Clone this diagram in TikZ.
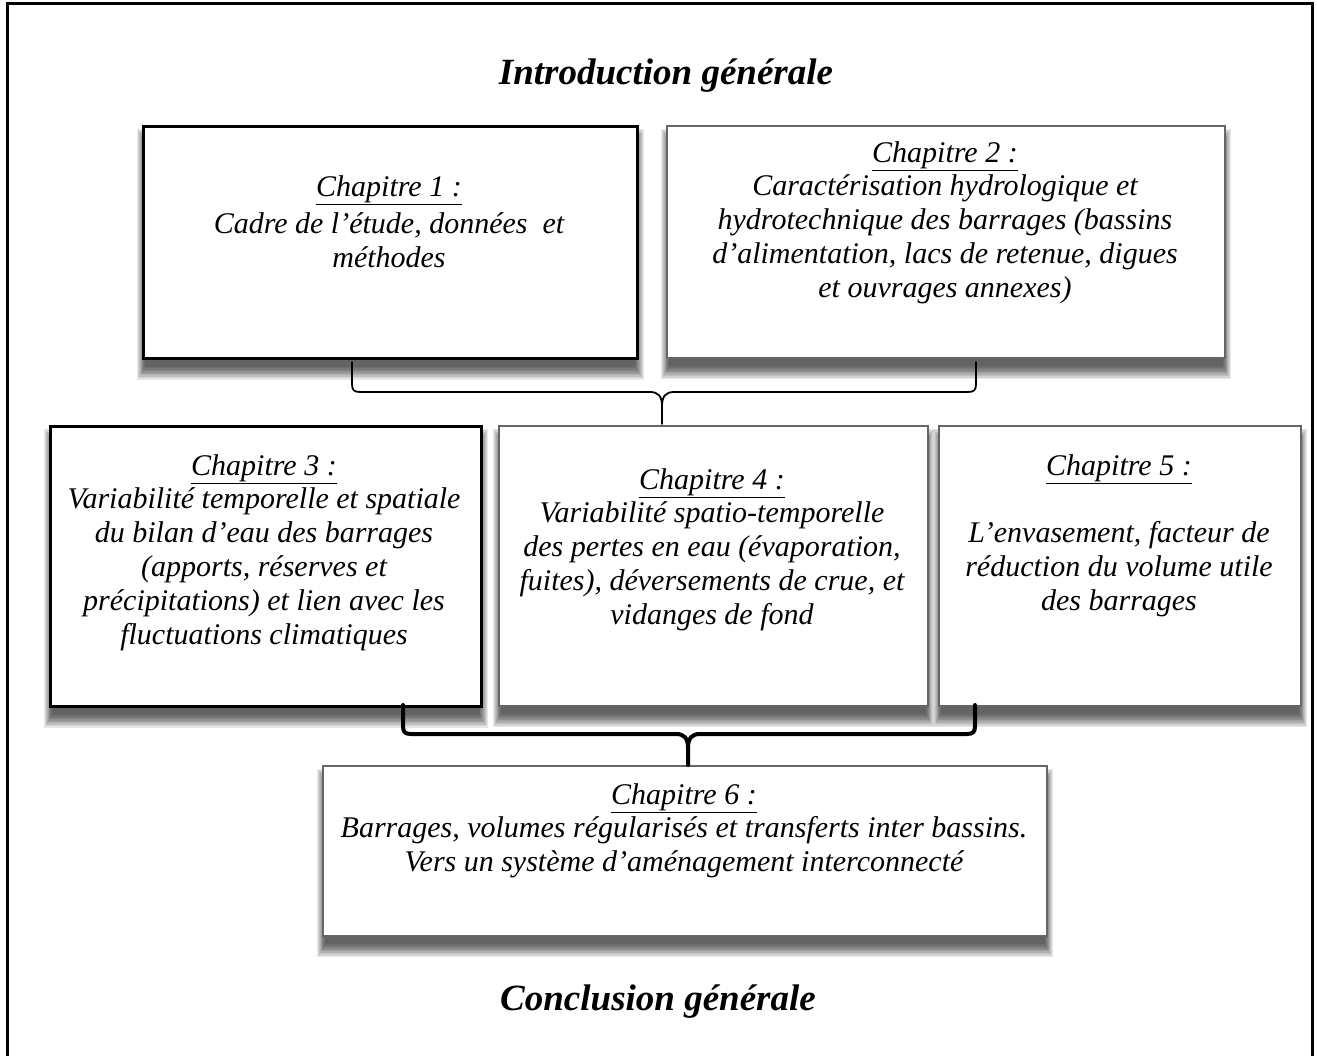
\documentclass[tikz,border=0pt]{standalone}
\usepackage{fontspec}
\setmainfont{Liberation Serif}
\usetikzlibrary{calc,backgrounds}
\tikzset{
  boxthick/.style={rectangle, draw=black, line width=2.6pt, fill=white, inner sep=0pt, anchor=north west},
  boxthin/.style={rectangle, draw=black!60, line width=2pt, fill=white, inner sep=0pt, anchor=north west},
  btext/.style={align=center, font=\fontsize{30}{33.8}\selectfont\itshape, inner sep=0pt, anchor=north},
  ttext/.style={font=\fontsize{37}{44}\selectfont\bfseries\itshape, inner sep=0pt},
  bracethin/.style={draw=black, line width=1.8pt, line join=round, line cap=round},
  bracethick/.style={draw=black, line width=4pt, line join=round, line cap=round},
}
\newcommand\dropshade[1]{%
  \foreach \k in {0,...,9}{%
    \fill[black, opacity=0.09] ($(#1.north west)+(-5+0.9*\k, 4+1.4*\k)$) rectangle ($(#1.south east)+(5-0.9*\k, 20-1.4*\k)$);
  }}
\newcommand\curlybrace[7]{%
  \draw[#1] (#2,#5) -- (#2,#6-8) .. controls (#2,#6-2) and (#2+2,#6) .. (#2+8,#6) -- (#4-12,#6) .. controls (#4-4,#6) and (#4,#6+4) .. (#4,#6+14) -- (#4,#7);
  \draw[#1] (#3,#5) -- (#3,#6-8) .. controls (#3,#6-2) and (#3-2,#6) .. (#3-8,#6) -- (#4+12,#6) .. controls (#4+4,#6) and (#4,#6+4) .. (#4,#6+14);
}
\begin{document}
\begin{tikzpicture}[x=1pt,y=-1pt]
\useasboundingbox (0,0) rectangle (1317,1056);
\draw[line width=3pt] (7,4) rectangle (1312,1090);

\node[ttext] (intro) at (666,76) {Introduction générale};
\node[ttext] (concl) at (658,1002) {Conclusion générale};

\node[boxthick, minimum width=494pt, minimum height=232pt] (b1) at (142,125) {};
\node[boxthin, minimum width=558pt, minimum height=232pt] (b2) at (666,125) {};
\node[boxthick, minimum width=431pt, minimum height=280pt] (b3) at (49,425) {};
\node[boxthin, minimum width=429pt, minimum height=280pt] (b4) at (498,425) {};
\node[boxthin, minimum width=362pt, minimum height=280pt] (b5) at (938,425) {};
\node[boxthin, minimum width=724pt, minimum height=170pt] (b6) at (322,765) {};

\begin{scope}[on background layer]
\dropshade{b1}\dropshade{b2}\dropshade{b3}\dropshade{b4}\dropshade{b5}\dropshade{b6}
\end{scope}

\node[btext] (t1) at (389,175) {\underline{Chapitre 1 :}\\[4pt]Cadre de l’étude, données~ et\\méthodes};
\node[btext] (t2) at (945,141) {\underline{Chapitre 2 :}\\Caractérisation hydrologique et\\hydrotechnique des barrages (bassins\\d’alimentation, lacs de retenue, digues\\et ouvrages annexes)};
\node[btext] (t3) at (264,454) {\underline{Chapitre 3 :}\\Variabilité temporelle et spatiale\\du bilan d’eau des barrages\\(apports, réserves et\\précipitations) et lien avec les\\fluctuations climatiques};
\node[btext] (t4) at (712,468) {\underline{Chapitre 4 :}\\Variabilité spatio-temporelle\\des pertes en eau (évaporation,\\fuites), déversements de crue, et\\vidanges de fond};
\node[btext] (t5) at (1119,454) {\underline{Chapitre 5 :}\\\mbox{}\\L’envasement, facteur de\\réduction du volume utile\\des barrages};
\node[btext] (t6) at (684,783) {\underline{Chapitre 6 :}\\Barrages, volumes régularisés et transferts inter bassins.\\Vers un système d’aménagement interconnecté};

\curlybrace{bracethin}{352}{976}{662}{362}{392}{424}
\curlybrace{bracethick}{403}{975}{688}{705}{734}{765}
\end{tikzpicture}
\end{document}
